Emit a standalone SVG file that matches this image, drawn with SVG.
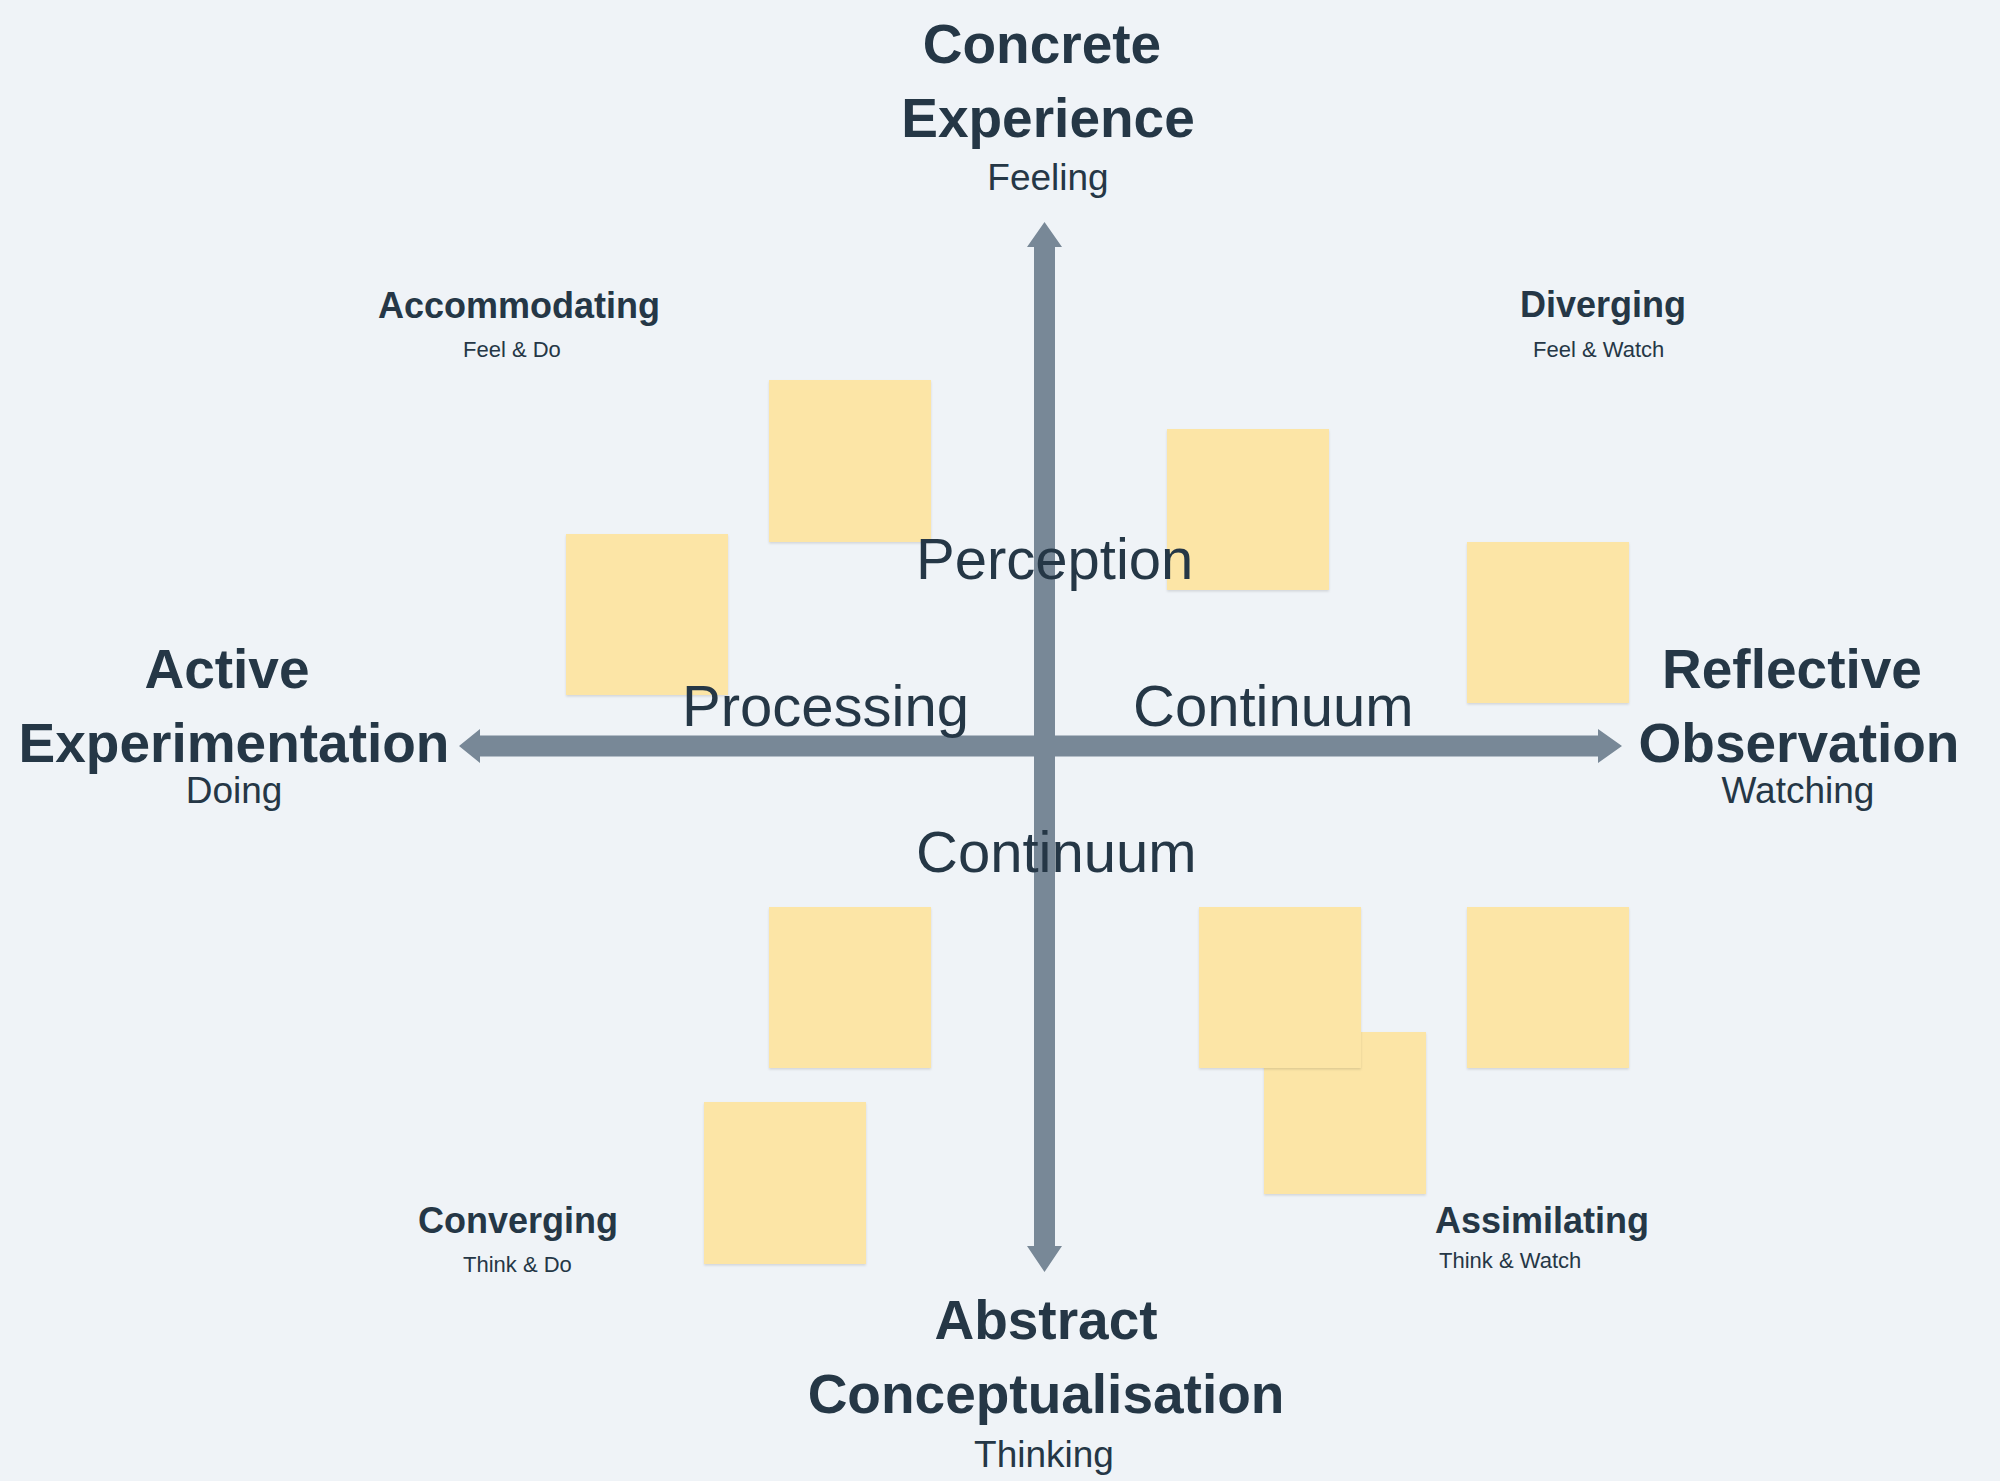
<svg xmlns="http://www.w3.org/2000/svg" width="2000" height="1481" viewBox="0 0 2000 1481">
<defs>
<style>
.t{fill:#253746;font-family:"Liberation Sans",Arial,sans-serif}
.big{font-size:55px;font-weight:bold;text-anchor:middle}
.sub{font-size:37px;text-anchor:middle}
.q{font-size:36px;font-weight:bold}
.qs{font-size:22px}
.mid{font-size:58px;fill:#253746;font-family:"Liberation Sans",Arial,sans-serif}
.note{fill:#fce5a6;filter:url(#sh)}
.ax{fill:#788897}
</style>
<filter id="sh" x="-10%" y="-10%" width="120%" height="120%">
<feDropShadow dx="0" dy="1.5" stdDeviation="1.2" flood-color="#000" flood-opacity="0.12"/>
</filter>
</defs>
<rect width="2000" height="1481" fill="#eff3f7"/>
<g id="connectors">
<polygon class="ax" points="459,746 480,729 480,735.5 1598,735.5 1598,729 1622,746 1598,763 1598,756.5 480,756.5 480,763"/>
<polygon class="ax" points="1044.5,222 1062,247 1055,247 1055,1246 1062,1246 1044.5,1272 1027,1246 1034,1246 1034,247 1027,247"/>
</g>
<g id="note1"><rect class="note" x="769" y="380" width="162" height="162"/></g>
<g id="note2"><rect class="note" x="1167" y="429" width="162" height="161"/></g>
<g id="note3"><rect class="note" x="566" y="534" width="162" height="161"/></g>
<g id="note4"><rect class="note" x="1467" y="542" width="162" height="161"/></g>
<g id="note5"><rect class="note" x="769" y="907" width="162" height="161"/></g>
<g id="note8"><rect class="note" x="1264" y="1032" width="162" height="162"/></g>
<g id="note6"><rect class="note" x="1199" y="907" width="162" height="161"/></g>
<g id="note7"><rect class="note" x="1467" y="907" width="162" height="161"/></g>
<g id="note9"><rect class="note" x="704" y="1102" width="162" height="162"/></g>
<g id="concrete">
<text class="t big" x="1042" y="63">Concrete</text>
<text class="t big" x="1048" y="137">Experience</text>
<text class="t sub" x="1048" y="190">Feeling</text>
</g>
<g id="active">
<text class="t big" x="227" y="688">Active</text>
<text class="t big" x="234" y="762">Experimentation</text>
<text class="t sub" x="234" y="803">Doing</text>
</g>
<g id="reflective">
<text class="t big" x="1792" y="688">Reflective</text>
<text class="t big" x="1799" y="762">Observation</text>
<text class="t sub" x="1798" y="803">Watching</text>
</g>
<g id="abstract">
<text class="t big" x="1046" y="1339">Abstract</text>
<text class="t big" x="1046" y="1413">Conceptualisation</text>
<text class="t sub" x="1044" y="1467">Thinking</text>
</g>
<g id="accommodating">
<text class="t q" x="378" y="318">Accommodating</text>
<text class="t qs" x="463" y="357">Feel &amp; Do</text>
</g>
<g id="diverging">
<text class="t q" x="1520" y="317">Diverging</text>
<text class="t qs" x="1533" y="357">Feel &amp; Watch</text>
</g>
<g id="converging">
<text class="t q" x="418" y="1233">Converging</text>
<text class="t qs" x="463" y="1272">Think &amp; Do</text>
</g>
<g id="assimilating">
<text class="t q" x="1435" y="1233">Assimilating</text>
<text class="t qs" x="1439" y="1268">Think &amp; Watch</text>
</g>
<g id="axis-labels">
<text class="mid" x="916" y="579">Perception</text>
<text class="mid" x="682" y="726">Processing</text>
<text class="mid" x="1133" y="726">Continuum</text>
<text class="mid" x="916" y="872">Continuum</text>
</g>
</svg>
